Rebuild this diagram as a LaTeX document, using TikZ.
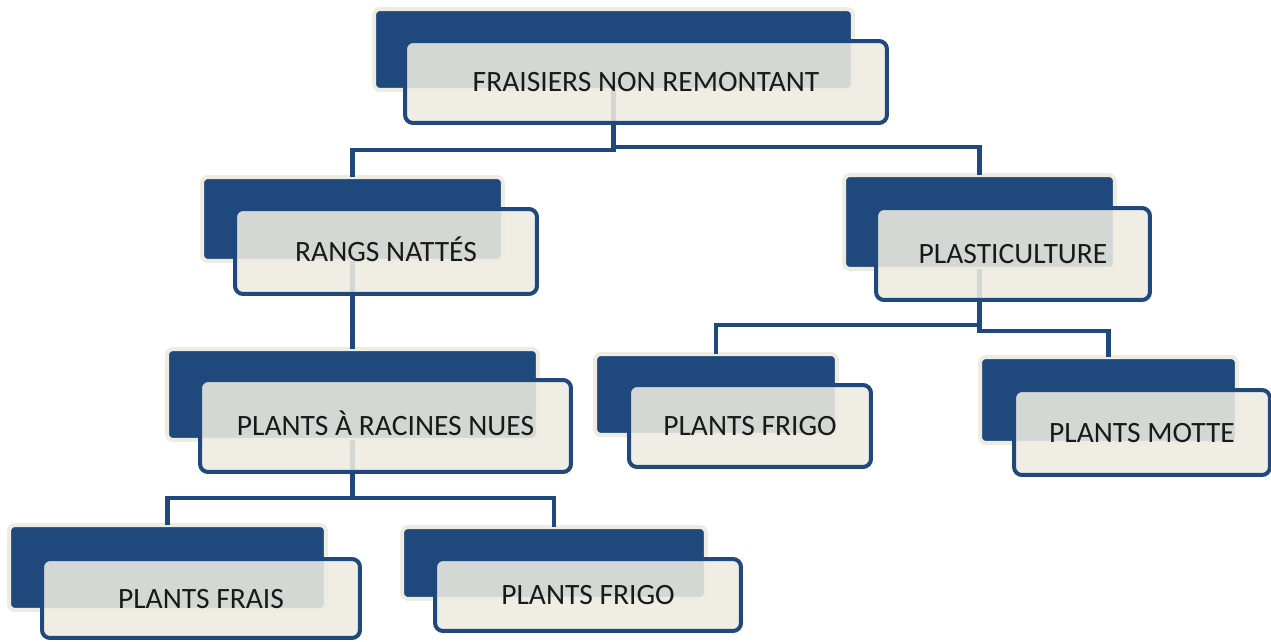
\documentclass[tikz,border=0pt]{standalone}
\usepackage{fontspec}
\setmainfont{Carlito}
\definecolor{dkblue}{HTML}{1F497D}
\definecolor{cream}{HTML}{EEECE1}
\begin{document}
\begin{tikzpicture}[x=0.02cm,y=-0.02cm,
  backbox/.style={draw=cream, line width=0.08cm, fill=dkblue, rounded corners=0.12cm, inner sep=0pt, outer sep=0pt},
  frontbox/.style={draw=dkblue, line width=0.08cm, fill=cream, fill opacity=0.88, text opacity=1, rounded corners=0.16cm, inner sep=0pt, outer sep=0pt, font=\fontsize{16.8pt}{20pt}\selectfont, text=black!90, text height=0.38cm, text depth=0pt},
  link/.style={draw=dkblue, line width=0.09cm}]
\fill[white] (0,0) rectangle (1271,642);
\useasboundingbox (0,0) rectangle (1271,642);
% back boxes
\node[backbox, minimum width=9.58cm, minimum height=1.62cm] (tb) at (613.5,49.5) {};
\node[backbox, minimum width=6.02cm, minimum height=1.68cm] (rb) at (352.5,219) {};
\node[backbox, minimum width=5.42cm, minimum height=1.88cm] (pb) at (979.5,222) {};
\node[backbox, minimum width=7.42cm, minimum height=1.82cm] (nb) at (352.5,394.5) {};
\node[backbox, minimum width=4.84cm, minimum height=1.62cm] (gb) at (716,394.5) {};
\node[backbox, minimum width=5.14cm, minimum height=1.72cm] (mb) at (1108.5,400) {};
\node[backbox, minimum width=6.34cm, minimum height=1.70cm] (fb) at (167.5,567.5) {};
\node[backbox, minimum width=6.08cm, minimum height=1.44cm] (hb) at (554,563) {};
% connectors
\draw[link] (tb.south) -- ++(0,60) -| (rb.north);
\draw[link] (tb.south) -- ++(0,57) -| (pb.north);
\draw[link] (rb.south) -- (nb.north);
\draw[link] (pb.south) -- ++(0,56) -| (gb.north);
\draw[link] (pb.south) -- ++(0,62) -| (mb.north);
\draw[link] (nb.south) -- ++(0,58) -| (fb.north);
\draw[link] (nb.south) -- ++(0,58) -| (hb.north);
% front boxes
\node[frontbox, minimum width=9.64cm, minimum height=1.64cm] (tf) at (646,82) {FRAISIERS NON REMONTANT};
\node[frontbox, minimum width=6.04cm, minimum height=1.70cm] (rf) at (386,251.5) {RANGS NATTÉS};
\node[frontbox, minimum width=5.48cm, minimum height=1.84cm] (pf) at (1013,254) {PLASTICULTURE};
\node[frontbox, minimum width=7.42cm, minimum height=1.84cm] (nf) at (385.5,426) {PLANTS À RACINES NUES};
\node[frontbox, minimum width=4.84cm, minimum height=1.64cm] (gf) at (750,426) {PLANTS FRIGO};
\node[frontbox, minimum width=5.12cm, minimum height=1.70cm] (mf) at (1142,432.5) {PLANTS MOTTE};
\node[frontbox, minimum width=6.36cm, minimum height=1.58cm] (ff) at (201,598.5) {PLANTS FRAIS};
\node[frontbox, minimum width=6.12cm, minimum height=1.44cm] (hf) at (588,595) {PLANTS FRIGO};
\end{tikzpicture}
\end{document}
